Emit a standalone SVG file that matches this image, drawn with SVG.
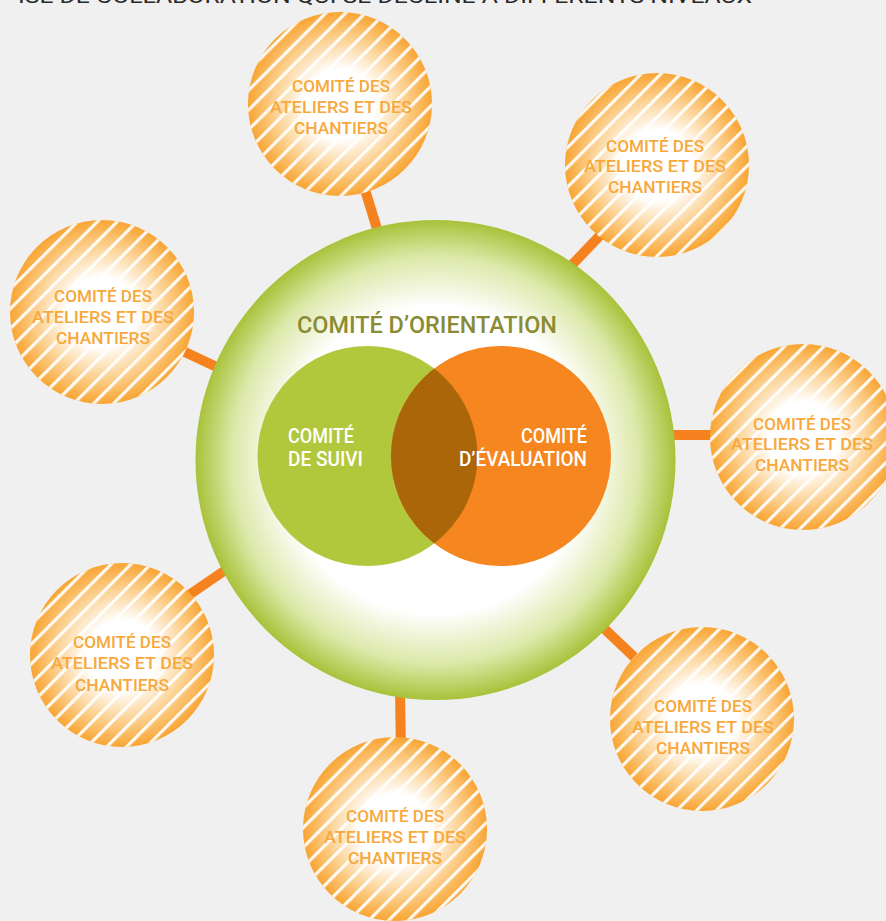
<svg xmlns="http://www.w3.org/2000/svg" width="886" height="921" viewBox="0 0 886 921">
<style>
.sat{fill:url(#satGrad)}
.stripe{fill:url(#stripes)}
.st{font-family:Roboto,"Liberation Sans",sans-serif;font-weight:500;font-size:16.5px;fill:#f7a93d;text-anchor:middle}
.ct{font-family:Roboto,"Liberation Sans",sans-serif;font-weight:500;font-size:19.5px;fill:#ffffff}
.conn{stroke:#f5821f;stroke-width:10;fill:none}
</style>
<defs>
<radialGradient id="mainGrad" cx="0.5" cy="0.5" r="0.5">
<stop offset="0" stop-color="#ffffff"/>
<stop offset="0.64" stop-color="#ffffff"/>
<stop offset="0.85" stop-color="#dce8a8"/>
<stop offset="1" stop-color="#a8c23a"/>
</radialGradient>
<radialGradient id="satGrad" cx="0.5" cy="0.5" r="0.5">
<stop offset="0" stop-color="#ffffff"/>
<stop offset="0.38" stop-color="#ffffff"/>
<stop offset="0.72" stop-color="#fcd08f"/>
<stop offset="1" stop-color="#f8a533"/>
</radialGradient>
<pattern id="stripes" patternUnits="userSpaceOnUse" width="14" height="14" patternTransform="rotate(-45)">
<rect x="0" y="0" width="14" height="3.2" fill="#ffffff" fill-opacity="0.92"/>
</pattern>
<clipPath id="greenClip"><circle cx="367.5" cy="456" r="110"/></clipPath>
</defs>
<rect width="886" height="921" fill="#f0f0f0"/>
<text x="18" y="2.5" font-family="Roboto,'Liberation Sans',sans-serif" font-weight="400" font-size="20" fill="#2a2a2a" textLength="734" lengthAdjust="spacingAndGlyphs">ISE DE COLLABORATION QUI SE DÉCLINE À DIFFÉRENTS NIVEAUX</text>
<g id="connectors">
<line class="conn" x1="362" y1="180" x2="382" y2="245"/>
<line class="conn" x1="548" y1="290" x2="610" y2="225"/>
<line class="conn" x1="660" y1="435" x2="730" y2="435"/>
<line class="conn" x1="590" y1="615" x2="650" y2="672"/>
<line class="conn" x1="400" y1="690" x2="401" y2="755"/>
<line class="conn" x1="240" y1="560" x2="170" y2="608"/>
<line class="conn" x1="240" y1="378" x2="170" y2="345"/>
</g>
<g id="orientation">
<circle cx="435.5" cy="460" r="240" fill="url(#mainGrad)"/>
<text x="427" y="333" font-family="Roboto,'Liberation Sans',sans-serif" font-weight="500" font-size="24" fill="#8a8b34" text-anchor="middle" textLength="260" lengthAdjust="spacingAndGlyphs">COMITÉ D’ORIENTATION</text>
</g>
<g id="suivi">
<circle cx="367.5" cy="456" r="110" fill="#b2c83c"/>
<text class="ct" x="288" y="443" textLength="66" lengthAdjust="spacingAndGlyphs">COMITÉ</text>
<text class="ct" x="288" y="466" textLength="75" lengthAdjust="spacingAndGlyphs">DE SUIVI</text>
</g>
<g id="evaluation">
<circle cx="501" cy="456" r="110" fill="#f58620"/>
<circle cx="501" cy="456" r="110" fill="#ab660a" clip-path="url(#greenClip)"/>
<text class="ct" x="587" y="443" text-anchor="end" textLength="66" lengthAdjust="spacingAndGlyphs">COMITÉ</text>
<text class="ct" x="587" y="466" text-anchor="end" textLength="128" lengthAdjust="spacingAndGlyphs">D’ÉVALUATION</text>
</g>
<g id="sat1">
<circle class="sat" cx="340" cy="104" r="92"/>
<circle class="stripe" cx="340" cy="104" r="92"/>
<text class="st" x="341" y="92" textLength="98" lengthAdjust="spacingAndGlyphs">COMITÉ DES</text>
<text class="st" x="341" y="113" textLength="142" lengthAdjust="spacingAndGlyphs">ATELIERS ET DES</text>
<text class="st" x="341" y="134" textLength="94" lengthAdjust="spacingAndGlyphs">CHANTIERS</text>
</g>
<g id="sat2">
<circle class="sat" cx="657" cy="165" r="92"/>
<circle class="stripe" cx="657" cy="165" r="92"/>
<text class="st" x="655" y="152" textLength="98" lengthAdjust="spacingAndGlyphs">COMITÉ DES</text>
<text class="st" x="655" y="172" textLength="142" lengthAdjust="spacingAndGlyphs">ATELIERS ET DES</text>
<text class="st" x="655" y="193" textLength="94" lengthAdjust="spacingAndGlyphs">CHANTIERS</text>
</g>
<g id="sat3">
<circle class="sat" cx="803" cy="437" r="93"/>
<circle class="stripe" cx="803" cy="437" r="93"/>
<text class="st" x="802" y="430" textLength="98" lengthAdjust="spacingAndGlyphs">COMITÉ DES</text>
<text class="st" x="802" y="450" textLength="142" lengthAdjust="spacingAndGlyphs">ATELIERS ET DES</text>
<text class="st" x="802" y="471" textLength="94" lengthAdjust="spacingAndGlyphs">CHANTIERS</text>
</g>
<g id="sat4">
<circle class="sat" cx="702" cy="719" r="92"/>
<circle class="stripe" cx="702" cy="719" r="92"/>
<text class="st" x="703" y="712" textLength="98" lengthAdjust="spacingAndGlyphs">COMITÉ DES</text>
<text class="st" x="703" y="733" textLength="142" lengthAdjust="spacingAndGlyphs">ATELIERS ET DES</text>
<text class="st" x="703" y="754" textLength="94" lengthAdjust="spacingAndGlyphs">CHANTIERS</text>
</g>
<g id="sat5">
<circle class="sat" cx="395" cy="829" r="92"/>
<circle class="stripe" cx="395" cy="829" r="92"/>
<text class="st" x="395" y="822" textLength="98" lengthAdjust="spacingAndGlyphs">COMITÉ DES</text>
<text class="st" x="395" y="843" textLength="142" lengthAdjust="spacingAndGlyphs">ATELIERS ET DES</text>
<text class="st" x="395" y="864" textLength="94" lengthAdjust="spacingAndGlyphs">CHANTIERS</text>
</g>
<g id="sat6">
<circle class="sat" cx="122" cy="655" r="92"/>
<circle class="stripe" cx="122" cy="655" r="92"/>
<text class="st" x="122" y="648" textLength="98" lengthAdjust="spacingAndGlyphs">COMITÉ DES</text>
<text class="st" x="122" y="669" textLength="142" lengthAdjust="spacingAndGlyphs">ATELIERS ET DES</text>
<text class="st" x="122" y="691" textLength="94" lengthAdjust="spacingAndGlyphs">CHANTIERS</text>
</g>
<g id="sat7">
<circle class="sat" cx="102" cy="312" r="92"/>
<circle class="stripe" cx="102" cy="312" r="92"/>
<text class="st" x="103" y="302" textLength="98" lengthAdjust="spacingAndGlyphs">COMITÉ DES</text>
<text class="st" x="103" y="323" textLength="142" lengthAdjust="spacingAndGlyphs">ATELIERS ET DES</text>
<text class="st" x="103" y="344" textLength="94" lengthAdjust="spacingAndGlyphs">CHANTIERS</text>
</g>
</svg>
